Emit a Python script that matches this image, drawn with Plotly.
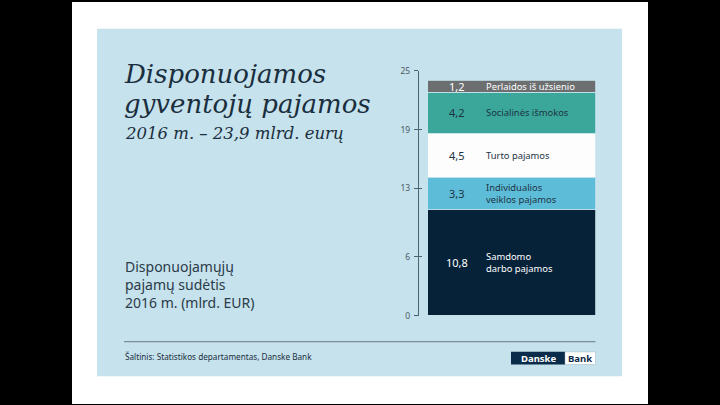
import plotly.graph_objects as go

# ---- data ----
categories = ["Samdomo darbo pajamos", "Individualios veiklos pajamos", "Turto pajamos",
              "Socialinės išmokos", "Perlaidos iš užsienio"]
label_text = ["Samdomo<br>darbo pajamos", "Individualios<br>veiklos pajamos", "Turto pajamos",
              "Socialinės išmokos", "Perlaidos iš užsienio"]
values = [10.8, 3.3, 4.5, 4.2, 1.2]
value_labels = ["10,8", "3,3", "4,5", "4,2", "1,2"]
tick_values = [0, 6, 13, 19, 25]
tick_labels = ["0", "6", "13", "19", "25"]

# ---- styles ----
seg_colors = ["#062239", "#5dbdd8", "#fdfdfd", "#3ba79b", "#6c6e70"]
val_colors = ["#ffffff", "#1d3344", "#1d3344", "#1d3344", "#ffffff"]
lab_colors = ["#ffffff", "#1d3344", "#1d3344", "#1d3344", "#ffffff"]
BG = "#c6e2ec"
DARK = "#1a2e3e"
W, H = 720, 405


def px(x):
    return x / W


def py(y):
    return 1 - y / H


fig = go.Figure()
for cat, v, c in zip(categories, values, seg_colors):
    fig.add_trace(go.Bar(x=["2016"], y=[v], name=cat, marker=dict(color=c, line=dict(color=BG, width=0.8)),
                         width=1, hoverinfo="skip", showlegend=False))
# invisible trace for the second (inner-tick) axis
fig.add_trace(go.Scatter(x=["2016"], y=[0], yaxis="y2", mode="markers", marker=dict(opacity=0),
                         showlegend=False, hoverinfo="skip"))

shapes = [
    dict(type="rect", xref="paper", yref="paper", x0=px(72), x1=px(648), y0=-0.01, y1=1.01,
         fillcolor="white", line=dict(width=0), layer="below"),
    dict(type="rect", xref="paper", yref="paper", x0=px(97), x1=px(622), y0=py(380.5), y1=py(23.5),
         fillcolor=BG, line=dict(width=0), layer="below"),
    dict(type="line", xref="paper", yref="paper", x0=px(124), x1=px(595.5), y0=py(345), y1=py(345),
         line=dict(color="#7d8c96", width=1.2)),
    dict(type="rect", xref="paper", yref="paper", x0=px(511), x1=px(565), y0=py(368.5), y1=py(355.5),
         fillcolor="#0b2b4a", line=dict(width=0)),
    dict(type="rect", xref="paper", yref="paper", x0=px(565), x1=px(595.5), y0=py(368.5), y1=py(355.5),
         fillcolor="white", line=dict(color="#9fb3bf", width=0.5)),
]

ann = []
serif = "DejaVu Serif"
sans = "Noto Sans"
ann.append(dict(text="<i>Disponuojamos</i>", x=px(122), y=py(70), font=dict(family=serif, size=26, color=DARK)))
ann.append(dict(text="<i>gyventojų pajamos</i>", x=px(122), y=py(101), font=dict(family=serif, size=26, color=DARK)))
ann.append(dict(text="<i>2016 m. – 23,9 mlrd. eurų</i>", x=px(123), y=py(131.5), font=dict(family=serif, size=16.5, color=DARK)))
ann.append(dict(text="Disponuojamųjų<br>pajamų sudėtis<br>2016 m. (mlrd. EUR)", x=px(123), y=py(286.5),
                font=dict(family=sans, size=14, color="#2a3a48")))
ann.append(dict(text="Šaltinis: Statistikos departamentas, Danske Bank", x=px(123), y=py(360),
                font=dict(family=sans, size=8.2, color=DARK)))
ann.append(dict(text="<b>Danske</b>", x=px(538), y=py(362), xanchor="center",
                font=dict(family=sans, size=9.5, color="white")))
ann.append(dict(text="<b>Bank</b>", x=px(580), y=py(362), xanchor="center",
                font=dict(family=sans, size=9.5, color="#0b2b4a")))
for a in ann:
    a.setdefault("xref", "paper")
    a.setdefault("yref", "paper")
    a.setdefault("xanchor", "left")
    a.setdefault("yanchor", "middle")
    a["showarrow"] = False
    a["align"] = "left"

# segment texts placed at each segment's midpoint
cum = 0
for v, vl, lt, vc, lc in zip(values, value_labels, label_text, val_colors, lab_colors):
    mid = cum + v / 2
    cum += v
    ann.append(dict(text=vl, x=px(456.5), xref="paper", y=mid, yref="y", xanchor="center", yanchor="middle",
                    showarrow=False, font=dict(family=sans, size=11, color=vc)))
    ann.append(dict(text=lt, x=px(483.5), xref="paper", y=mid, yref="y", xanchor="left", yanchor="middle",
                    showarrow=False, align="left", font=dict(family=sans, size=9.4, color=lc)))

ydom = [1 - 318.3 / H, 1 - 66.7 / H]
fig.update_layout(
    width=W, height=H, margin=dict(l=0, r=0, t=0, b=0),
    paper_bgcolor="black", plot_bgcolor="rgba(0,0,0,0)",
    barmode="stack", bargap=0,
    shapes=shapes, annotations=ann,
    xaxis=dict(domain=[px(419), px(596)], range=[-0.555, 0.5], visible=False, fixedrange=True),
    yaxis=dict(domain=ydom, range=[0, 25], tickvals=tick_values, ticktext=tick_labels,
               showgrid=False, zeroline=False, showline=True, linecolor="#4f6270", linewidth=1.2,
               ticks="outside", ticklen=4, tickwidth=1.2, tickcolor="#4f6270",
               tickfont=dict(family=sans, size=8.5, color="#4a5a66"), ticklabelstandoff=2),
    yaxis2=dict(domain=ydom, range=[0, 25], overlaying="y", anchor="x", side="left",
                tickvals=tick_values, showticklabels=False, showgrid=False, zeroline=False,
                ticks="inside", ticklen=3, tickwidth=1.2, tickcolor="#4f6270", showline=False),
)
fig.write_html("out.html", config={"displayModeBar": False},
               post_script="document.body.style.margin='0';document.body.style.overflow='hidden';")
